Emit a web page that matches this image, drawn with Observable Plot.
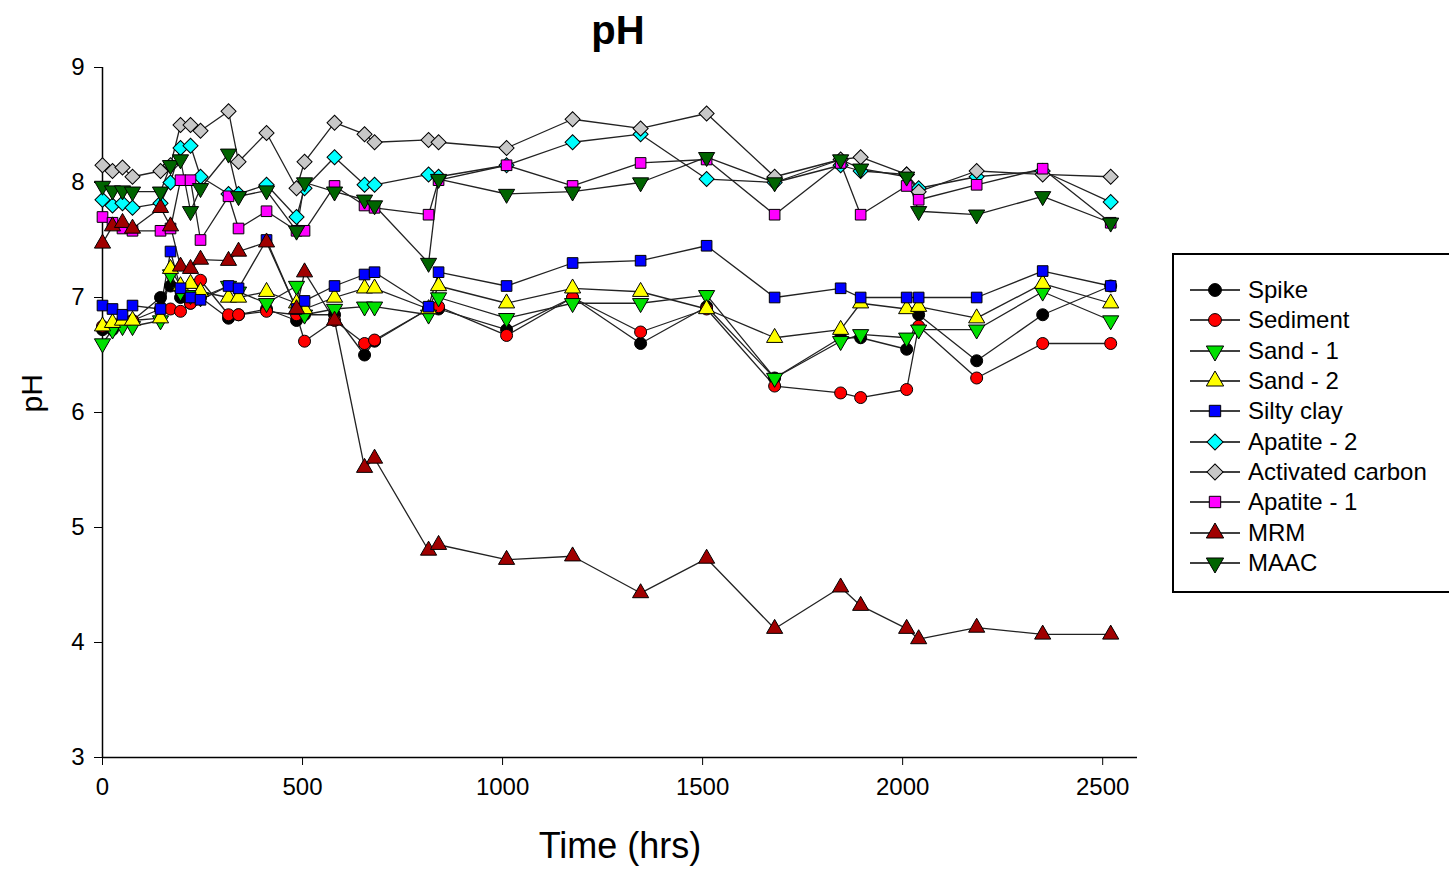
<!DOCTYPE html>
<html>
<head>
<meta charset="utf-8">
<script src="https://cdn.jsdelivr.net/npm/d3@7"></script>
<script src="https://cdn.jsdelivr.net/npm/@observablehq/plot@0.6"></script>
<style>
  body { margin: 0; background: white; font-family: "Liberation Sans", Arial, sans-serif; }
  #wrap { position: relative; width: 1449px; height: 878px; }
  #title { position: absolute; left: 0; width: 1236px; top: 8px; text-align: center; font-weight: bold; font-size: 40px; }
  #legend { position: absolute; left: 1172px; top: 253px; width: 290px; height: 340px; border: 2px solid black; box-sizing: border-box; padding-top: 20px; }
  .row { height: 30.3px; display: flex; align-items: center; font-size: 24px; }
  .row svg { margin-left: 14px; margin-right: 6px; }
</style>
</head>
<body>
<div id="wrap">
  <div id="chart"></div>
  <div id="title">pH</div>
  <div id="legend"></div>
</div>
<script>
const times = [0, 25, 50, 75, 145, 170, 195, 220, 245, 315, 340, 410, 485, 505, 580, 655, 680, 815, 840, 1010, 1175, 1345, 1510, 1680, 1845, 1895, 2010, 2040, 2185, 2350, 2520];

const spike      = [6.72, 6.72, 6.78, 6.8, 7.0, 7.1, 7.0, 6.95, 7.0, 6.82, 6.85, 6.9, 6.8, 6.85, 6.85, 6.5, 6.62, 6.9, 6.9, 6.72, 7.0, 6.6, 6.92, 6.3, 6.65, 6.65, 6.55, 6.85, 6.45, 6.85, 7.1];
const sediment   = [6.75, 6.75, 6.8, 6.8, 6.9, 6.9, 6.88, 6.95, 7.15, 6.85, 6.85, 6.88, 6.85, 6.62, 6.8, 6.6, 6.63, 6.9, 6.92, 6.67, 7.0, 6.7, 6.9, 6.23, 6.17, 6.13, 6.2, 6.75, 6.3, 6.6, 6.6];
const sand1      = [6.6, 6.72, 6.75, 6.75, 6.8, 7.2, 7.05, 7.02, 7.0, 7.1, 7.05, 6.95, 7.1, 6.85, 6.9, 6.92, 6.92, 6.85, 7.0, 6.82, 6.95, 6.95, 7.02, 6.3, 6.62, 6.68, 6.65, 6.72, 6.72, 7.05, 6.8];
const sand2      = [6.75, 6.78, 6.8, 6.8, 6.82, 7.25, 7.1, 7.12, 7.05, 7.0, 7.0, 7.05, 6.95, 6.9, 7.0, 7.08, 7.08, 6.9, 7.1, 6.95, 7.08, 7.05, 6.9, 6.65, 6.72, 6.95, 6.9, 6.92, 6.82, 7.12, 6.95];
const siltyClay  = [6.93, 6.9, 6.85, 6.93, 6.9, 7.4, 7.08, 7.0, 6.98, 7.1, 7.08, 7.5, 6.9, 6.97, 7.1, 7.2, 7.22, 6.92, 7.22, 7.1, 7.3, 7.32, 7.45, 7.0, 7.08, 7.0, 7.0, 7.0, 7.0, 7.23, 7.1];
const apatite2   = [7.85, 7.8, 7.82, 7.78, 7.82, 8.0, 8.3, 8.32, 8.05, 7.9, 7.9, 7.98, 7.7, 7.95, 8.22, 7.98, 7.98, 8.07, 8.05, 8.15, 8.35, 8.42, 8.03, 8.0, 8.15, 8.1, 8.07, 7.95, 8.05, 8.1, 7.83];
const activated  = [8.15, 8.1, 8.13, 8.05, 8.1, 8.15, 8.5, 8.5, 8.45, 8.62, 8.18, 8.43, 7.95, 8.18, 8.52, 8.42, 8.35, 8.37, 8.35, 8.3, 8.55, 8.47, 8.6, 8.05, 8.2, 8.22, 8.07, 7.92, 8.1, 8.07, 8.05];
const apatite1   = [7.7, 7.65, 7.6, 7.58, 7.58, 7.6, 8.02, 8.02, 7.5, 7.88, 7.6, 7.75, 7.58, 7.58, 7.97, 7.8, 7.78, 7.72, 8.02, 8.15, 7.97, 8.17, 8.2, 7.72, 8.17, 7.72, 7.97, 7.85, 7.98, 8.12, 7.65];
const mrm        = [7.47, 7.62, 7.65, 7.6, 7.78, 7.62, 7.27, 7.25, 7.33, 7.32, 7.4, 7.48, 6.9, 7.22, 6.8, 5.52, 5.6, 4.8, 4.85, 4.72, 4.75, 4.43, 4.73, 4.12, 4.48, 4.32, 4.12, 4.03, 4.13, 4.07, 4.07];
const maac       = [7.97, 7.93, 7.93, 7.92, 7.92, 8.15, 8.2, 7.75, 7.95, 8.25, 7.88, 7.93, 7.58, 8.0, 7.92, 7.85, 7.8, 7.3, 8.03, 7.9, 7.92, 8.0, 8.22, 8.0, 8.2, 8.12, 8.05, 7.75, 7.72, 7.88, 7.65];

// name, values, fill, symbol, rotation
const series = [
  ["Spike", spike, "black", "circle", 0],
  ["Sediment", sediment, "red", "circle", 0],
  ["Sand - 1", sand1, "#00e000", "triangle", 180],
  ["Sand - 2", sand2, "yellow", "triangle", 0],
  ["Silty clay", siltyClay, "blue", "square", 0],
  ["Apatite - 2", apatite2, "cyan", "square", 45],
  ["Activated carbon", activated, "#c8c8c8", "square", 45],
  ["Apatite - 1", apatite1, "magenta", "square", 0],
  ["MRM", mrm, "#a00000", "triangle", 0],
  ["MAAC", maac, "#006400", "triangle", 180]
];

const rows = series.flatMap(([name, vals, fill, symbol, rot]) =>
  vals.map((v, i) => ({name, time: times[i], ph: v, fill, symbol, rot})));

const chart = Plot.plot({
  width: 1449,
  height: 878,
  marginLeft: 102,
  marginRight: 312,
  marginTop: 67,
  marginBottom: 121,
  style: {fontFamily: "Liberation Sans, Arial, sans-serif", fontSize: "24px", color: "black"},
  x: {domain: [0, 2587], ticks: [0, 500, 1000, 1500, 2000, 2500], tickFormat: "d", tickSize: 8, tickPadding: 12, label: null},
  y: {domain: [3, 9], ticks: [3, 4, 5, 6, 7, 8, 9], tickFormat: "d", tickSize: 8, tickPadding: 10, label: null},
  marks: [
    Plot.ruleX([0], {stroke: "black", strokeWidth: 1.5}),
    Plot.ruleY([3], {stroke: "black", strokeWidth: 1.5}),
    Plot.line(rows, {x: "time", y: "ph", z: "name", stroke: "#222", strokeWidth: 1.3}),
    Plot.dot(rows, {x: "time", y: "ph", symbol: d => d.symbol, rotate: "rot", fill: "fill", stroke: "black", strokeWidth: 1, r: 6}),
    Plot.text(["Time (hrs)"], {frameAnchor: "bottom", dy: 100, fontSize: 36, fill: "black"}),
    Plot.text(["pH"], {frameAnchor: "left", dx: -70, rotate: -90, fontSize: 30, fill: "black"})
  ]
});
document.getElementById("chart").append(chart);

// legend
const leg = d3.select("#legend");
for (const [name, , fill, symbol, rot] of series) {
  const row = leg.append("div").attr("class", "row");
  const s = row.append("svg").attr("width", 54).attr("height", 24);
  s.append("line").attr("x1", 2).attr("x2", 52).attr("y1", 12).attr("y2", 12).attr("stroke", "black").attr("stroke-width", 1.5);
  const symMap = {circle: d3.symbolCircle, square: d3.symbolSquare, triangle: d3.symbolTriangle};
  s.append("path").attr("d", d3.symbol(symMap[symbol], 130)())
    .attr("transform", `translate(27,12) rotate(${rot})`)
    .attr("fill", fill).attr("stroke", "black");
  row.append("span").text(name);
}
</script>
</body>
</html>
